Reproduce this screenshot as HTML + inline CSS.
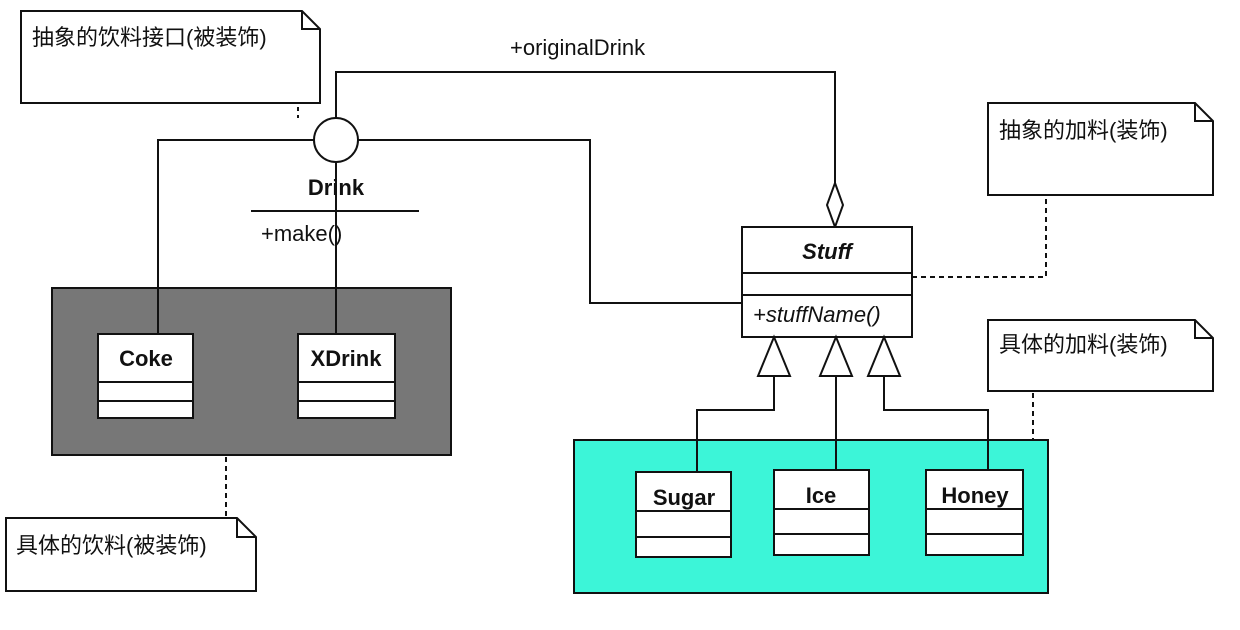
<!DOCTYPE html>
<html><head><meta charset="utf-8"><style>html,body{margin:0;padding:0;background:#fff}svg{display:block}</style></head>
<body>
<svg width="1240" height="630" xmlns="http://www.w3.org/2000/svg" font-family="'Liberation Sans','Noto Sans CJK SC',sans-serif">
<rect width="1240" height="630" fill="#fff"/>
<g fill="none" stroke="#111" stroke-width="2">
<path d="M21,11 H302 L320,29 V103 H21 Z M302,11 V29 H320" fill="#fff"/>
<line x1="298" y1="107" x2="298" y2="118" stroke-dasharray="4,4"/>
<path d="M336,118 V72 H835 V183"/>
<path d="M314,140 H158 V333"/>
<path d="M358,140 H590 V303 H742"/>
<path d="M336,162 V333"/>
<line x1="251" y1="211" x2="419" y2="211"/>
<polygon points="835,183 843,205 835,227 827,205" fill="#fff"/>
<circle cx="336" cy="140" r="22" fill="#fff"/>
<rect x="52" y="288" width="399" height="167" fill="#777"/>
<rect x="98" y="334" width="95" height="84" fill="#fff"/>
<line x1="98" y1="382" x2="193" y2="382"/><line x1="98" y1="401" x2="193" y2="401"/>
<rect x="298" y="334" width="97" height="84" fill="#fff"/>
<line x1="298" y1="382" x2="395" y2="382"/><line x1="298" y1="401" x2="395" y2="401"/>
<line x1="158" y1="288" x2="158" y2="334"/><line x1="336" y1="288" x2="336" y2="334"/>
<line x1="226" y1="457" x2="226" y2="518" stroke-dasharray="5,4"/>
<path d="M6,518 H237 L256,537 V591 H6 Z M237,518 V537 H256" fill="#fff"/>
<rect x="742" y="227" width="170" height="110" fill="#fff"/>
<line x1="742" y1="273" x2="912" y2="273"/><line x1="742" y1="295" x2="912" y2="295"/>
<path d="M912,277 H1046 V195" stroke-dasharray="5,4"/>
<path d="M988,103 H1195 L1213,121 V195 H988 Z M1195,103 V121 H1213" fill="#fff"/>
<path d="M988,320 H1195 L1213,338 V391 H988 Z M1195,320 V338 H1213" fill="#fff"/>
<line x1="1033" y1="393" x2="1033" y2="441" stroke-dasharray="5,4"/>
<rect x="574" y="440" width="474" height="153" fill="#3cf5d8"/>
<path d="M774,376 V410 H697 V472"/>
<path d="M836,376 V470"/>
<path d="M884,376 V410 H988 V470"/>
<polygon points="774,337 790,376 758,376" fill="#fff"/>
<polygon points="836,337 852,376 820,376" fill="#fff"/>
<polygon points="884,337 900,376 868,376" fill="#fff"/>
<rect x="636" y="472" width="95" height="85" fill="#fff"/>
<line x1="636" y1="511" x2="731" y2="511"/><line x1="636" y1="537" x2="731" y2="537"/>
<rect x="774" y="470" width="95" height="85" fill="#fff"/>
<line x1="774" y1="509" x2="869" y2="509"/><line x1="774" y1="534" x2="869" y2="534"/>
<rect x="926" y="470" width="97" height="85" fill="#fff"/>
<line x1="926" y1="509" x2="1023" y2="509"/><line x1="926" y1="534" x2="1023" y2="534"/>
</g>
<g fill="#111" font-size="22">
<text x="32" y="45">抽象的饮料接口(被装饰)</text>
<text x="16" y="553">具体的饮料(被装饰)</text>
<text x="999" y="138">抽象的加料(装饰)</text>
<text x="999" y="352">具体的加料(装饰)</text>
<text x="510" y="55">+originalDrink</text>
<text x="336" y="195" font-weight="bold" text-anchor="middle">Drink</text>
<text x="261" y="241">+make()</text>
<text x="146" y="366" font-weight="bold" text-anchor="middle">Coke</text>
<text x="346" y="366" font-weight="bold" text-anchor="middle">XDrink</text>
<text x="827" y="259" font-weight="bold" font-style="italic" text-anchor="middle">Stuff</text>
<text x="753" y="322" font-style="italic">+stuffName()</text>
<text x="684" y="505" font-weight="bold" text-anchor="middle">Sugar</text>
<text x="821" y="503" font-weight="bold" text-anchor="middle">Ice</text>
<text x="975" y="503" font-weight="bold" text-anchor="middle">Honey</text>
</g>
</svg>
</body></html>
